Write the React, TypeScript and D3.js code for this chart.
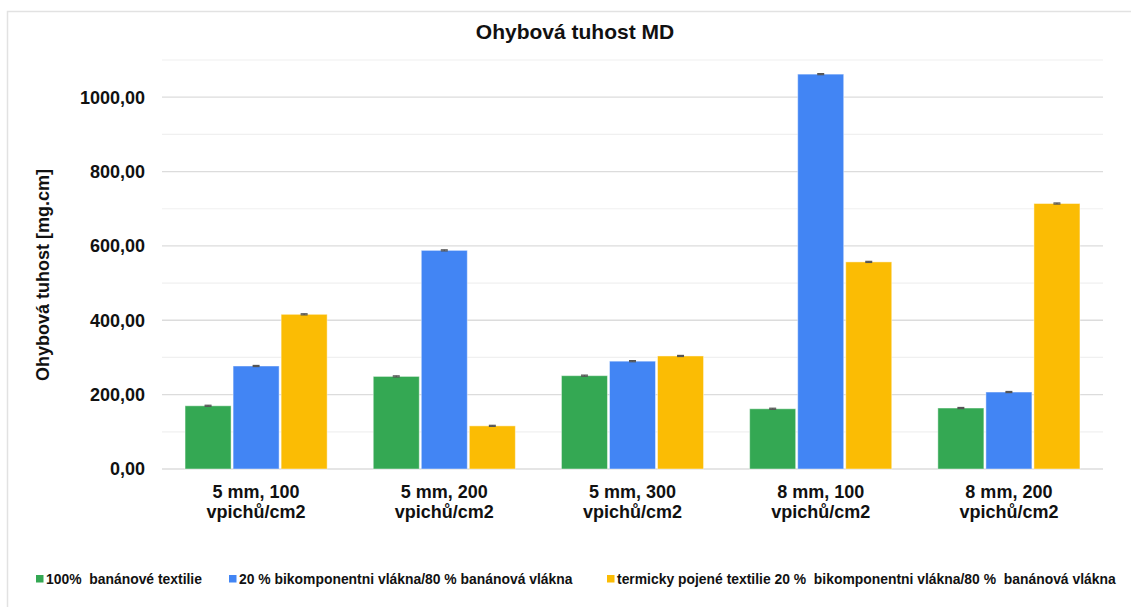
import React from "react";
import * as d3 from "d3";

const categories = [
  ["5 mm, 100", "vpichů/cm2"],
  ["5 mm, 200", "vpichů/cm2"],
  ["5 mm, 300", "vpichů/cm2"],
  ["8 mm, 100", "vpichů/cm2"],
  ["8 mm, 200", "vpichů/cm2"],
];
const seriesNames = [
  "100%  banánové textilie",
  "20 % bikomponentni vlákna/80 % banánová vlákna",
  "termicky pojené textilie 20 %  bikomponentni vlákna/80 %  banánová vlákna",
];
const seriesColors = ["#34A853", "#4285F4", "#FBBC04"];
const greenValues = [170, 249, 251, 162, 164];
const blueValues = [277, 588, 290, 1062, 207];
const yellowValues = [416, 116, 304, 557, 714];
const errorValues = [1.5, 1.5, 1.5, 1.5, 1.5];
const majorTicks = [0, 200, 400, 600, 800, 1000];
const minorTicks = [100, 300, 500, 700, 900, 1100];

const series = [greenValues, blueValues, yellowValues];

const W = 1131;
const H = 607;
const left = 162;
const right = 1103;
const top = 60;
const bottom = 469;

const fmt = d3
  .formatLocale({ decimal: ",", thousands: "", grouping: [3], currency: ["", ""] })
  .format(".2f");

export default function App() {
  const x0 = d3
    .scaleBand<number>()
    .domain(d3.range(categories.length))
    .range([left, right])
    .paddingInner(0.245)
    .paddingOuter(0.1225);
  const x1 = d3
    .scaleBand<number>()
    .domain(d3.range(series.length))
    .range([0, x0.bandwidth()])
    .paddingInner(0.042)
    .paddingOuter(0);
  const y = d3.scaleLinear().domain([0, 1100]).range([bottom, top]);

  const font = "'Liberation Sans', Arial, sans-serif";
  const legendX = [36, 229, 607];

  return (
    <svg
      width={W}
      height={H}
      style={{ position: "fixed", left: 0, top: 0, background: "#fff" }}
      fontFamily={font}
    >
      <rect x={0} y={0} width={W} height={H} fill="#fff" />
      <rect x={7.5} y={11.5} width={W + 20} height={H + 20} fill="none" stroke="#e2e2e2" strokeWidth={1.5} />
      <text x={575} y={39} textAnchor="middle" fontSize={21} fontWeight="bold" fill="#111">
        Ohybová tuhost MD
      </text>

      {minorTicks.map((t) => (
        <line key={"mi" + t} x1={left} x2={right} y1={y(t)} y2={y(t)} stroke="#f0f0f0" strokeWidth={1.2} />
      ))}
      {majorTicks.map((t) => (
        <line key={"ma" + t} x1={left} x2={right} y1={y(t)} y2={y(t)} stroke="#dcdcdc" strokeWidth={1.3} />
      ))}
      {majorTicks.map((t) => (
        <text
          key={"tl" + t}
          x={145}
          y={y(t)}
          dy="0.36em"
          textAnchor="end"
          fontSize={18}
          fontWeight="bold"
          fill="#111"
        >
          {fmt(t)}
        </text>
      ))}
      <text
        transform={`translate(49,275) rotate(-90)`}
        textAnchor="middle"
        fontSize={18}
        fontWeight="bold"
        fill="#111"
      >
        Ohybová tuhost [mg.cm]
      </text>

      {series.map((vals, si) =>
        vals.map((v, ci) => {
          const bx = (x0(ci) as number) + (x1(si) as number);
          const bw = x1.bandwidth();
          return (
            <g key={`b${si}-${ci}`}>
              <rect
                x={bx}
                y={y(v)}
                width={bw}
                height={y(0) - y(v)}
                fill={seriesColors[si]}
                stroke="rgba(255,255,255,0.45)"
                strokeWidth={1}
              />
              <line
                x1={bx + bw / 2}
                x2={bx + bw / 2}
                y1={y(v + errorValues[ci])}
                y2={y(v - errorValues[ci])}
                stroke="#555"
                strokeWidth={1.2}
              />
              <line
                x1={bx + bw / 2 - 3.5}
                x2={bx + bw / 2 + 3.5}
                y1={y(v + errorValues[ci])}
                y2={y(v + errorValues[ci])}
                stroke="#555"
                strokeWidth={1.2}
              />
              <line
                x1={bx + bw / 2 - 3.5}
                x2={bx + bw / 2 + 3.5}
                y1={y(v - errorValues[ci])}
                y2={y(v - errorValues[ci])}
                stroke="#555"
                strokeWidth={1.2}
              />
            </g>
          );
        })
      )}

      {categories.map((c, ci) => (
        <text
          key={"c" + ci}
          x={(x0(ci) as number) + x0.bandwidth() / 2}
          y={498}
          textAnchor="middle"
          fontSize={18}
          fontWeight="bold"
          fill="#111"
        >
          <tspan x={(x0(ci) as number) + x0.bandwidth() / 2}>{c[0]}</tspan>
          <tspan x={(x0(ci) as number) + x0.bandwidth() / 2} dy={19.5}>
            {c[1]}
          </tspan>
        </text>
      ))}

      {seriesNames.map((n, si) => (
        <g key={"l" + si}>
          <rect x={legendX[si]} y={575} width={7.5} height={7.5} fill={seriesColors[si]} />
          <text
            x={legendX[si] + 10}
            y={584}
            fontSize={13.9}
            fontWeight="bold"
            fill="#111"
            style={{ whiteSpace: "pre" }}
          >
            {n}
          </text>
        </g>
      ))}
    </svg>
  );
}
